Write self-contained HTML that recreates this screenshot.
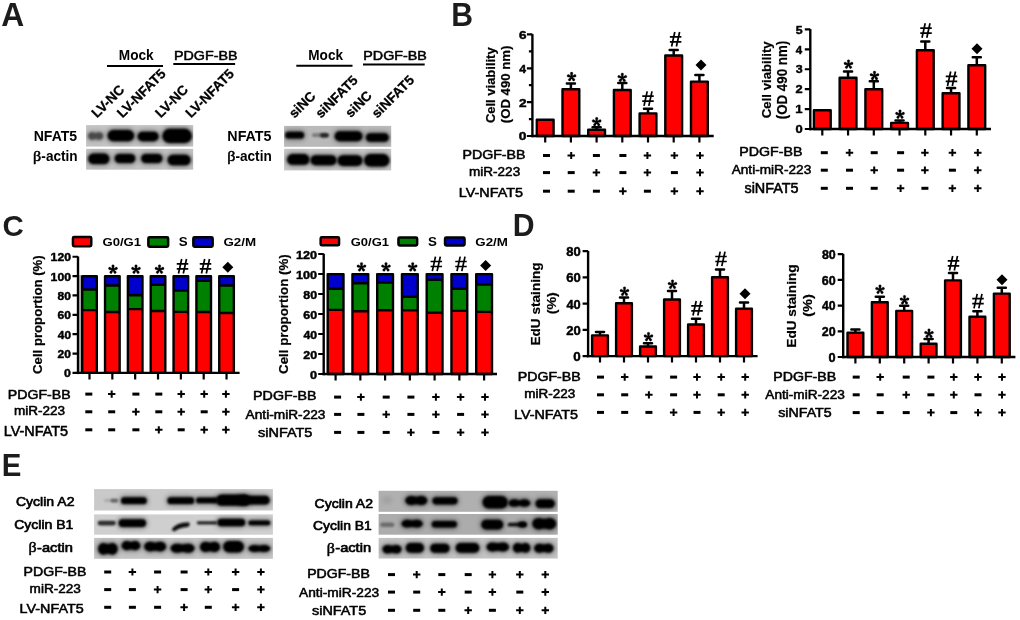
<!DOCTYPE html><html><head><meta charset="utf-8"><style>html,body{margin:0;padding:0;background:#fff;width:1020px;height:620px;overflow:hidden}svg{display:block;will-change:transform}text{font-family:"Liberation Sans",sans-serif;fill:#000}</style></head><body>
<svg width="1020" height="620" viewBox="0 0 1020 620">
<defs><filter id="bl" x="-30%" y="-80%" width="160%" height="260%"><feGaussianBlur stdDeviation="1.5"/></filter><filter id="bl2" x="-30%" y="-80%" width="160%" height="260%"><feGaussianBlur stdDeviation="0.9"/></filter><filter id="bl3" x="-30%" y="-80%" width="160%" height="260%"><feGaussianBlur stdDeviation="2.4"/></filter></defs>
<rect width="1020" height="620" fill="#fff"/>
<text x="1.21" y="26.20" font-size="32.61" font-weight="bold" textLength="22.96" lengthAdjust="spacingAndGlyphs" style="fill:#1c1c1c">A</text>
<text x="451.34" y="25.80" font-size="32.61" font-weight="bold" textLength="21.78" lengthAdjust="spacingAndGlyphs" style="fill:#1c1c1c">B</text>
<text x="2.52" y="235.50" font-size="30.42" font-weight="bold" textLength="21.28" lengthAdjust="spacingAndGlyphs" style="fill:#1c1c1c">C</text>
<text x="512.73" y="235.50" font-size="30.87" font-weight="bold" textLength="21.84" lengthAdjust="spacingAndGlyphs" style="fill:#1c1c1c">D</text>
<text x="1.79" y="476.30" font-size="32.03" font-weight="bold" textLength="19.60" lengthAdjust="spacingAndGlyphs" style="fill:#1c1c1c">E</text>
<path d="M532.4,34.12V137.20" stroke="#000" stroke-width="2.4" fill="none"/>
<path d="M526.9,136.00H532.4M526.9,102.14H532.4M526.9,68.28H532.4M526.9,34.42H532.4M528.9,119.07H532.4M528.9,85.21H532.4M528.9,51.35H532.4" stroke="#000" stroke-width="2.2" fill="none"/>
<text x="518.87" y="140.27" font-size="10.92" font-weight="bold" textLength="7.67" lengthAdjust="spacingAndGlyphs" stroke="#000" stroke-width="0.45" stroke-linejoin="round">0</text>
<text x="518.95" y="106.51" font-size="11.07" font-weight="bold" textLength="7.59" lengthAdjust="spacingAndGlyphs" stroke="#000" stroke-width="0.45" stroke-linejoin="round">2</text>
<text x="519.24" y="72.65" font-size="11.23" font-weight="bold" textLength="6.81" lengthAdjust="spacingAndGlyphs" stroke="#000" stroke-width="0.45" stroke-linejoin="round">4</text>
<text x="518.95" y="38.69" font-size="10.92" font-weight="bold" textLength="7.51" lengthAdjust="spacingAndGlyphs" stroke="#000" stroke-width="0.45" stroke-linejoin="round">6</text>
<rect x="536.80" y="119.70" width="16.80" height="16.30" fill="#f00" stroke="#000" stroke-width="2.4" stroke-linejoin="round"/>
<path d="M570.90,89.1V83.5M566.85,83.5H574.95" stroke="#000" stroke-width="2.5" stroke-linecap="round" fill="none"/>
<rect x="562.50" y="89.30" width="16.80" height="46.70" fill="#f00" stroke="#000" stroke-width="2.4" stroke-linejoin="round"/>
<path d="M596.60,129.6V127.3M592.55,127.3H600.65" stroke="#000" stroke-width="2.5" stroke-linecap="round" fill="none"/>
<rect x="588.20" y="129.80" width="16.80" height="6.20" fill="#f00" stroke="#000" stroke-width="2.4" stroke-linejoin="round"/>
<path d="M622.30,89.8V82.9M618.25,82.9H626.35" stroke="#000" stroke-width="2.5" stroke-linecap="round" fill="none"/>
<rect x="613.90" y="90.00" width="16.80" height="46.00" fill="#f00" stroke="#000" stroke-width="2.4" stroke-linejoin="round"/>
<path d="M648.00,113.2V108.7M643.95,108.7H652.05" stroke="#000" stroke-width="2.5" stroke-linecap="round" fill="none"/>
<rect x="639.60" y="113.40" width="16.80" height="22.60" fill="#f00" stroke="#000" stroke-width="2.4" stroke-linejoin="round"/>
<path d="M673.70,55.3V49.9M669.65,49.9H677.75" stroke="#000" stroke-width="2.5" stroke-linecap="round" fill="none"/>
<rect x="665.30" y="55.50" width="16.80" height="80.50" fill="#f00" stroke="#000" stroke-width="2.4" stroke-linejoin="round"/>
<path d="M699.40,81.4V75.1M695.35,75.1H703.45" stroke="#000" stroke-width="2.5" stroke-linecap="round" fill="none"/>
<rect x="691.00" y="81.60" width="16.80" height="54.40" fill="#f00" stroke="#000" stroke-width="2.4" stroke-linejoin="round"/>
<path d="M531.1999999999999,136H713.7" stroke="#000" stroke-width="2.4" fill="none"/>
<path d="M545.20,136V142.5M570.90,136V142.5M596.60,136V142.5M622.30,136V142.5M648.00,136V142.5M673.70,136V142.5M699.40,136V142.5" stroke="#000" stroke-width="2.2" fill="none"/>
<path d="M572.05,76.90L572.90,73.40A1.3,1.3 0 0 0 570.30,73.40L571.15,76.90ZM571.74,77.33L575.33,77.05A1.3,1.3 0 0 0 574.53,74.58L571.46,76.47ZM571.74,76.47L568.67,74.58A1.3,1.3 0 0 0 567.87,77.05L571.46,77.33ZM571.24,77.16L572.61,80.50A1.3,1.3 0 0 0 574.71,78.97L571.96,76.64ZM571.24,76.64L568.49,78.97A1.3,1.3 0 0 0 570.59,80.50L571.96,77.16Z" fill="#000" stroke="#000" stroke-width="0.3"/>
<path d="M597.15,122.00L598.00,118.50A1.3,1.3 0 0 0 595.40,118.50L596.25,122.00ZM596.84,122.43L600.43,122.15A1.3,1.3 0 0 0 599.63,119.68L596.56,121.57ZM596.84,121.57L593.77,119.68A1.3,1.3 0 0 0 592.97,122.15L596.56,122.43ZM596.34,122.26L597.71,125.60A1.3,1.3 0 0 0 599.81,124.07L597.06,121.74ZM596.34,121.74L593.59,124.07A1.3,1.3 0 0 0 595.69,125.60L597.06,122.26Z" fill="#000" stroke="#000" stroke-width="0.3"/>
<path d="M622.75,77.70L623.60,74.20A1.3,1.3 0 0 0 621.00,74.20L621.85,77.70ZM622.44,78.13L626.03,77.85A1.3,1.3 0 0 0 625.23,75.38L622.16,77.27ZM622.44,77.27L619.37,75.38A1.3,1.3 0 0 0 618.57,77.85L622.16,78.13ZM621.94,77.96L623.31,81.30A1.3,1.3 0 0 0 625.41,79.77L622.66,77.44ZM621.94,77.44L619.19,79.77A1.3,1.3 0 0 0 621.29,81.30L622.66,77.96Z" fill="#000" stroke="#000" stroke-width="0.3"/>
<path d="M647.20,91.35L644.00,105.85M652.00,91.35L648.80,105.85M642.25,96.20H653.75M642.25,101.20H653.75" stroke="#000" stroke-width="1.7" fill="none"/>
<path d="M674.80,32.05L671.60,46.55M679.60,32.05L676.40,46.55M669.85,36.90H681.35M669.85,41.90H681.35" stroke="#000" stroke-width="1.7" fill="none"/>
<path d="M701.00,59.60L706.50,65.10L701.00,70.60L695.50,65.10Z" fill="#000"/>
<text transform="translate(494.64,123.12) rotate(-90)" x="0" y="0" font-size="12.19" font-weight="bold" textLength="75.79" lengthAdjust="spacingAndGlyphs" stroke="#000" stroke-width="0.2">Cell viability</text>
<text transform="translate(510.34,123.26) rotate(-90)" x="0" y="0" font-size="12.19" font-weight="bold" textLength="77.62" lengthAdjust="spacingAndGlyphs" stroke="#000" stroke-width="0.2">(OD 490 nm)</text>
<text x="462.44" y="159.19" font-size="13.03" font-weight="normal" textLength="63.10" lengthAdjust="spacingAndGlyphs" stroke="#000" stroke-width="0.55" stroke-linejoin="round">PDGF-BB</text>
<text x="469.10" y="176.10" font-size="12.86" font-weight="normal" textLength="51.05" lengthAdjust="spacingAndGlyphs" stroke="#000" stroke-width="0.55" stroke-linejoin="round">miR-223</text>
<text x="458.83" y="196.99" font-size="13.36" font-weight="normal" textLength="64.07" lengthAdjust="spacingAndGlyphs" stroke="#000" stroke-width="0.55" stroke-linejoin="round">LV-NFAT5</text>
<path d="M543.00,155.50H550.00" stroke="#000" stroke-width="3" fill="none"/>
<path d="M567.50,155.50H574.90M571.20,151.90V159.10" stroke="#000" stroke-width="2" fill="none"/>
<path d="M592.90,155.50H599.90" stroke="#000" stroke-width="3" fill="none"/>
<path d="M619.40,155.50H626.40" stroke="#000" stroke-width="3" fill="none"/>
<path d="M643.70,155.50H651.10M647.40,151.90V159.10" stroke="#000" stroke-width="2" fill="none"/>
<path d="M670.70,155.50H678.10M674.40,151.90V159.10" stroke="#000" stroke-width="2" fill="none"/>
<path d="M696.30,155.50H703.70M700.00,151.90V159.10" stroke="#000" stroke-width="2" fill="none"/>
<path d="M543.00,172.60H550.00" stroke="#000" stroke-width="3" fill="none"/>
<path d="M567.70,172.60H574.70" stroke="#000" stroke-width="3" fill="none"/>
<path d="M592.70,172.60H600.10M596.40,169.00V176.20" stroke="#000" stroke-width="2" fill="none"/>
<path d="M619.40,172.60H626.40" stroke="#000" stroke-width="3" fill="none"/>
<path d="M643.70,172.60H651.10M647.40,169.00V176.20" stroke="#000" stroke-width="2" fill="none"/>
<path d="M670.90,172.60H677.90" stroke="#000" stroke-width="3" fill="none"/>
<path d="M696.30,172.60H703.70M700.00,169.00V176.20" stroke="#000" stroke-width="2" fill="none"/>
<path d="M543.00,191.20H550.00" stroke="#000" stroke-width="3" fill="none"/>
<path d="M567.70,191.20H574.70" stroke="#000" stroke-width="3" fill="none"/>
<path d="M592.90,191.20H599.90" stroke="#000" stroke-width="3" fill="none"/>
<path d="M619.20,191.20H626.60M622.90,187.60V194.80" stroke="#000" stroke-width="2" fill="none"/>
<path d="M643.90,191.20H650.90" stroke="#000" stroke-width="3" fill="none"/>
<path d="M670.70,191.20H678.10M674.40,187.60V194.80" stroke="#000" stroke-width="2" fill="none"/>
<path d="M696.30,191.20H703.70M700.00,187.60V194.80" stroke="#000" stroke-width="2" fill="none"/>
<path d="M810.3,29.10V130.20" stroke="#000" stroke-width="2.4" fill="none"/>
<path d="M804.8,129.00H810.3M804.8,109.08H810.3M804.8,89.16H810.3M804.8,69.24H810.3M804.8,49.32H810.3M804.8,29.40H810.3" stroke="#000" stroke-width="2.2" fill="none"/>
<text x="795.51" y="133.22" font-size="10.77" font-weight="bold" textLength="7.20" lengthAdjust="spacingAndGlyphs" stroke="#000" stroke-width="0.45" stroke-linejoin="round">0</text>
<text x="795.24" y="113.40" font-size="11.09" font-weight="bold" textLength="7.28" lengthAdjust="spacingAndGlyphs" stroke="#000" stroke-width="0.45" stroke-linejoin="round">1</text>
<text x="795.58" y="93.48" font-size="10.93" font-weight="bold" textLength="7.13" lengthAdjust="spacingAndGlyphs" stroke="#000" stroke-width="0.45" stroke-linejoin="round">2</text>
<text x="795.71" y="73.46" font-size="10.77" font-weight="bold" textLength="6.91" lengthAdjust="spacingAndGlyphs" stroke="#000" stroke-width="0.45" stroke-linejoin="round">3</text>
<text x="795.85" y="53.64" font-size="11.09" font-weight="bold" textLength="6.39" lengthAdjust="spacingAndGlyphs" stroke="#000" stroke-width="0.45" stroke-linejoin="round">4</text>
<text x="795.66" y="33.62" font-size="10.93" font-weight="bold" textLength="6.84" lengthAdjust="spacingAndGlyphs" stroke="#000" stroke-width="0.45" stroke-linejoin="round">5</text>
<rect x="813.90" y="110.30" width="16.80" height="18.70" fill="#f00" stroke="#000" stroke-width="2.4" stroke-linejoin="round"/>
<path d="M848.05,77.6V71.4M844.00,71.4H852.10" stroke="#000" stroke-width="2.5" stroke-linecap="round" fill="none"/>
<rect x="839.65" y="77.80" width="16.80" height="51.20" fill="#f00" stroke="#000" stroke-width="2.4" stroke-linejoin="round"/>
<path d="M873.80,89.1V81.2M869.75,81.2H877.85" stroke="#000" stroke-width="2.5" stroke-linecap="round" fill="none"/>
<rect x="865.40" y="89.30" width="16.80" height="39.70" fill="#f00" stroke="#000" stroke-width="2.4" stroke-linejoin="round"/>
<path d="M899.55,122.7V120.6M895.50,120.6H903.60" stroke="#000" stroke-width="2.5" stroke-linecap="round" fill="none"/>
<rect x="891.15" y="122.90" width="16.80" height="6.10" fill="#f00" stroke="#000" stroke-width="2.4" stroke-linejoin="round"/>
<path d="M925.30,50V41.4M921.25,41.4H929.35" stroke="#000" stroke-width="2.5" stroke-linecap="round" fill="none"/>
<rect x="916.90" y="50.20" width="16.80" height="78.80" fill="#f00" stroke="#000" stroke-width="2.4" stroke-linejoin="round"/>
<path d="M951.05,93V88.1M947.00,88.1H955.10" stroke="#000" stroke-width="2.5" stroke-linecap="round" fill="none"/>
<rect x="942.65" y="93.20" width="16.80" height="35.80" fill="#f00" stroke="#000" stroke-width="2.4" stroke-linejoin="round"/>
<path d="M976.80,65V57.3M972.75,57.3H980.85" stroke="#000" stroke-width="2.5" stroke-linecap="round" fill="none"/>
<rect x="968.40" y="65.20" width="16.80" height="63.80" fill="#f00" stroke="#000" stroke-width="2.4" stroke-linejoin="round"/>
<path d="M809.0999999999999,129H991" stroke="#000" stroke-width="2.4" fill="none"/>
<path d="M822.30,129V135.5M848.05,129V135.5M873.80,129V135.5M899.55,129V135.5M925.30,129V135.5M951.05,129V135.5M976.80,129V135.5" stroke="#000" stroke-width="2.2" fill="none"/>
<path d="M848.95,64.50L849.80,61.00A1.3,1.3 0 0 0 847.20,61.00L848.05,64.50ZM848.64,64.93L852.23,64.65A1.3,1.3 0 0 0 851.43,62.18L848.36,64.07ZM848.64,64.07L845.57,62.18A1.3,1.3 0 0 0 844.77,64.65L848.36,64.93ZM848.14,64.76L849.51,68.10A1.3,1.3 0 0 0 851.61,66.57L848.86,64.24ZM848.14,64.24L845.39,66.57A1.3,1.3 0 0 0 847.49,68.10L848.86,64.76Z" fill="#000" stroke="#000" stroke-width="0.3"/>
<path d="M874.95,75.80L875.80,72.30A1.3,1.3 0 0 0 873.20,72.30L874.05,75.80ZM874.64,76.23L878.23,75.95A1.3,1.3 0 0 0 877.43,73.48L874.36,75.37ZM874.64,75.37L871.57,73.48A1.3,1.3 0 0 0 870.77,75.95L874.36,76.23ZM874.14,76.06L875.51,79.40A1.3,1.3 0 0 0 877.61,77.87L874.86,75.54ZM874.14,75.54L871.39,77.87A1.3,1.3 0 0 0 873.49,79.40L874.86,76.06Z" fill="#000" stroke="#000" stroke-width="0.3"/>
<path d="M900.45,114.50L901.30,111.00A1.3,1.3 0 0 0 898.70,111.00L899.55,114.50ZM900.14,114.93L903.73,114.65A1.3,1.3 0 0 0 902.93,112.18L899.86,114.07ZM900.14,114.07L897.07,112.18A1.3,1.3 0 0 0 896.27,114.65L899.86,114.93ZM899.64,114.76L901.01,118.10A1.3,1.3 0 0 0 903.11,116.57L900.36,114.24ZM899.64,114.24L896.89,116.57A1.3,1.3 0 0 0 898.99,118.10L900.36,114.76Z" fill="#000" stroke="#000" stroke-width="0.3"/>
<path d="M925.20,23.25L922.00,37.75M930.00,23.25L926.80,37.75M920.25,28.10H931.75M920.25,33.10H931.75" stroke="#000" stroke-width="1.7" fill="none"/>
<path d="M950.70,71.45L947.50,85.95M955.50,71.45L952.30,85.95M945.75,76.30H957.25M945.75,81.30H957.25" stroke="#000" stroke-width="1.7" fill="none"/>
<path d="M977.00,43.20L982.50,48.70L977.00,54.20L971.50,48.70Z" fill="#000"/>
<text transform="translate(770.51,118.13) rotate(-90)" x="0" y="0" font-size="13.26" font-weight="bold" textLength="76.80" lengthAdjust="spacingAndGlyphs" stroke="#000" stroke-width="0.2">Cell viability</text>
<text transform="translate(786.71,119.27) rotate(-90)" x="0" y="0" font-size="14.22" font-weight="bold" textLength="78.54" lengthAdjust="spacingAndGlyphs" stroke="#000" stroke-width="0.2">(OD 490 nm)</text>
<text x="739.34" y="156.09" font-size="13.03" font-weight="normal" textLength="63.10" lengthAdjust="spacingAndGlyphs" stroke="#000" stroke-width="0.55" stroke-linejoin="round">PDGF-BB</text>
<text x="731.67" y="174.09" font-size="13.27" font-weight="normal" textLength="79.60" lengthAdjust="spacingAndGlyphs" stroke="#000" stroke-width="0.55" stroke-linejoin="round">Anti-miR-223</text>
<text x="744.44" y="193.09" font-size="13.95" font-weight="normal" textLength="54.16" lengthAdjust="spacingAndGlyphs" stroke="#000" stroke-width="0.55" stroke-linejoin="round">siNFAT5</text>
<path d="M820.80,152.70H827.80" stroke="#000" stroke-width="3" fill="none"/>
<path d="M845.80,152.70H853.20M849.50,149.10V156.30" stroke="#000" stroke-width="2" fill="none"/>
<path d="M870.70,152.70H877.70" stroke="#000" stroke-width="3" fill="none"/>
<path d="M897.10,152.70H904.10" stroke="#000" stroke-width="3" fill="none"/>
<path d="M921.20,152.70H928.60M924.90,149.10V156.30" stroke="#000" stroke-width="2" fill="none"/>
<path d="M948.70,152.70H956.10M952.40,149.10V156.30" stroke="#000" stroke-width="2" fill="none"/>
<path d="M974.10,152.70H981.50M977.80,149.10V156.30" stroke="#000" stroke-width="2" fill="none"/>
<path d="M820.80,170.20H827.80" stroke="#000" stroke-width="3" fill="none"/>
<path d="M846.00,170.20H853.00" stroke="#000" stroke-width="3" fill="none"/>
<path d="M870.50,170.20H877.90M874.20,166.60V173.80" stroke="#000" stroke-width="2" fill="none"/>
<path d="M897.10,170.20H904.10" stroke="#000" stroke-width="3" fill="none"/>
<path d="M921.20,170.20H928.60M924.90,166.60V173.80" stroke="#000" stroke-width="2" fill="none"/>
<path d="M948.90,170.20H955.90" stroke="#000" stroke-width="3" fill="none"/>
<path d="M974.10,170.20H981.50M977.80,166.60V173.80" stroke="#000" stroke-width="2" fill="none"/>
<path d="M820.80,188.30H827.80" stroke="#000" stroke-width="3" fill="none"/>
<path d="M846.00,188.30H853.00" stroke="#000" stroke-width="3" fill="none"/>
<path d="M870.70,188.30H877.70" stroke="#000" stroke-width="3" fill="none"/>
<path d="M896.90,188.30H904.30M900.60,184.70V191.90" stroke="#000" stroke-width="2" fill="none"/>
<path d="M921.40,188.30H928.40" stroke="#000" stroke-width="3" fill="none"/>
<path d="M948.70,188.30H956.10M952.40,184.70V191.90" stroke="#000" stroke-width="2" fill="none"/>
<path d="M974.10,188.30H981.50M977.80,184.70V191.90" stroke="#000" stroke-width="2" fill="none"/>
<path d="M588.1,250.92V357.30" stroke="#000" stroke-width="2.4" fill="none"/>
<path d="M582.6,356.10H588.1M582.6,329.88H588.1M582.6,303.66H588.1M582.6,277.44H588.1M582.6,251.22H588.1" stroke="#000" stroke-width="2.2" fill="none"/>
<text x="573.29" y="360.95" font-size="12.61" font-weight="bold" textLength="7.44" lengthAdjust="spacingAndGlyphs" stroke="#000" stroke-width="0.45" stroke-linejoin="round">0</text>
<text x="566.20" y="334.73" font-size="12.61" font-weight="bold" textLength="14.53" lengthAdjust="spacingAndGlyphs" stroke="#000" stroke-width="0.45" stroke-linejoin="round">20</text>
<text x="566.47" y="308.51" font-size="12.61" font-weight="bold" textLength="14.25" lengthAdjust="spacingAndGlyphs" stroke="#000" stroke-width="0.45" stroke-linejoin="round">40</text>
<text x="566.20" y="282.29" font-size="12.61" font-weight="bold" textLength="14.53" lengthAdjust="spacingAndGlyphs" stroke="#000" stroke-width="0.45" stroke-linejoin="round">60</text>
<text x="566.27" y="256.07" font-size="12.61" font-weight="bold" textLength="14.46" lengthAdjust="spacingAndGlyphs" stroke="#000" stroke-width="0.45" stroke-linejoin="round">80</text>
<path d="M600.00,335.2V332M595.95,332H604.05" stroke="#000" stroke-width="2.5" stroke-linecap="round" fill="none"/>
<rect x="592.10" y="335.40" width="15.80" height="20.70" fill="#f00" stroke="#000" stroke-width="2.4" stroke-linejoin="round"/>
<path d="M624.00,303V297.5M619.95,297.5H628.05" stroke="#000" stroke-width="2.5" stroke-linecap="round" fill="none"/>
<rect x="616.10" y="303.20" width="15.80" height="52.90" fill="#f00" stroke="#000" stroke-width="2.4" stroke-linejoin="round"/>
<path d="M648.00,346.3V343.2M643.95,343.2H652.05" stroke="#000" stroke-width="2.5" stroke-linecap="round" fill="none"/>
<rect x="640.10" y="346.50" width="15.80" height="9.60" fill="#f00" stroke="#000" stroke-width="2.4" stroke-linejoin="round"/>
<path d="M672.00,299.3V291M667.95,291H676.05" stroke="#000" stroke-width="2.5" stroke-linecap="round" fill="none"/>
<rect x="664.10" y="299.50" width="15.80" height="56.60" fill="#f00" stroke="#000" stroke-width="2.4" stroke-linejoin="round"/>
<path d="M696.00,324.3V318.7M691.95,318.7H700.05" stroke="#000" stroke-width="2.5" stroke-linecap="round" fill="none"/>
<rect x="688.10" y="324.50" width="15.80" height="31.60" fill="#f00" stroke="#000" stroke-width="2.4" stroke-linejoin="round"/>
<path d="M720.00,277.1V269.4M715.95,269.4H724.05" stroke="#000" stroke-width="2.5" stroke-linecap="round" fill="none"/>
<rect x="712.10" y="277.30" width="15.80" height="78.80" fill="#f00" stroke="#000" stroke-width="2.4" stroke-linejoin="round"/>
<path d="M744.00,308.5V302.5M739.95,302.5H748.05" stroke="#000" stroke-width="2.5" stroke-linecap="round" fill="none"/>
<rect x="736.10" y="308.70" width="15.80" height="47.40" fill="#f00" stroke="#000" stroke-width="2.4" stroke-linejoin="round"/>
<path d="M586.9,356.1H757.6" stroke="#000" stroke-width="2.4" fill="none"/>
<path d="M600.00,356.1V362.6M624.00,356.1V362.6M648.00,356.1V362.6M672.00,356.1V362.6M696.00,356.1V362.6M720.00,356.1V362.6M744.00,356.1V362.6" stroke="#000" stroke-width="2.2" fill="none"/>
<path d="M624.95,291.60L625.80,288.10A1.3,1.3 0 0 0 623.20,288.10L624.05,291.60ZM624.64,292.03L628.23,291.75A1.3,1.3 0 0 0 627.43,289.28L624.36,291.17ZM624.64,291.17L621.57,289.28A1.3,1.3 0 0 0 620.77,291.75L624.36,292.03ZM624.14,291.86L625.51,295.20A1.3,1.3 0 0 0 627.61,293.67L624.86,291.34ZM624.14,291.34L621.39,293.67A1.3,1.3 0 0 0 623.49,295.20L624.86,291.86Z" fill="#000" stroke="#000" stroke-width="0.3"/>
<path d="M648.95,337.00L649.80,333.50A1.3,1.3 0 0 0 647.20,333.50L648.05,337.00ZM648.64,337.43L652.23,337.15A1.3,1.3 0 0 0 651.43,334.68L648.36,336.57ZM648.64,336.57L645.57,334.68A1.3,1.3 0 0 0 644.77,337.15L648.36,337.43ZM648.14,337.26L649.51,340.60A1.3,1.3 0 0 0 651.61,339.07L648.86,336.74ZM648.14,336.74L645.39,339.07A1.3,1.3 0 0 0 647.49,340.60L648.86,337.26Z" fill="#000" stroke="#000" stroke-width="0.3"/>
<path d="M672.95,284.60L673.80,281.10A1.3,1.3 0 0 0 671.20,281.10L672.05,284.60ZM672.64,285.03L676.23,284.75A1.3,1.3 0 0 0 675.43,282.28L672.36,284.17ZM672.64,284.17L669.57,282.28A1.3,1.3 0 0 0 668.77,284.75L672.36,285.03ZM672.14,284.86L673.51,288.20A1.3,1.3 0 0 0 675.61,286.67L672.86,284.34ZM672.14,284.34L669.39,286.67A1.3,1.3 0 0 0 671.49,288.20L672.86,284.86Z" fill="#000" stroke="#000" stroke-width="0.3"/>
<path d="M696.20,300.95L693.00,315.45M701.00,300.95L697.80,315.45M691.25,305.80H702.75M691.25,310.80H702.75" stroke="#000" stroke-width="1.7" fill="none"/>
<path d="M720.20,251.65L717.00,266.15M725.00,251.65L721.80,266.15M715.25,256.50H726.75M715.25,261.50H726.75" stroke="#000" stroke-width="1.7" fill="none"/>
<path d="M745.00,288.20L750.50,293.70L745.00,299.20L739.50,293.70Z" fill="#000"/>
<text transform="translate(539.93,345.58) rotate(-90)" x="0" y="0" font-size="12.73" font-weight="bold" textLength="83.19" lengthAdjust="spacingAndGlyphs" stroke="#000" stroke-width="0.2">EdU staining</text>
<text transform="translate(555.66,314.21) rotate(-90)" x="0" y="0" font-size="12.09" font-weight="bold" textLength="22.02" lengthAdjust="spacingAndGlyphs" stroke="#000" stroke-width="0.2">(%)</text>
<text x="517.84" y="381.30" font-size="12.46" font-weight="normal" textLength="62.89" lengthAdjust="spacingAndGlyphs" stroke="#000" stroke-width="0.55" stroke-linejoin="round">PDGF-BB</text>
<text x="524.20" y="397.70" font-size="12.04" font-weight="normal" textLength="50.95" lengthAdjust="spacingAndGlyphs" stroke="#000" stroke-width="0.55" stroke-linejoin="round">miR-223</text>
<text x="514.03" y="418.59" font-size="13.07" font-weight="normal" textLength="64.07" lengthAdjust="spacingAndGlyphs" stroke="#000" stroke-width="0.55" stroke-linejoin="round">LV-NFAT5</text>
<path d="M597.00,377.10H604.00" stroke="#000" stroke-width="3" fill="none"/>
<path d="M621.00,377.10H628.40M624.70,373.50V380.70" stroke="#000" stroke-width="2" fill="none"/>
<path d="M645.40,377.10H652.40" stroke="#000" stroke-width="3" fill="none"/>
<path d="M670.10,377.10H677.10" stroke="#000" stroke-width="3" fill="none"/>
<path d="M693.30,377.10H700.70M697.00,373.50V380.70" stroke="#000" stroke-width="2" fill="none"/>
<path d="M717.50,377.10H724.90M721.20,373.50V380.70" stroke="#000" stroke-width="2" fill="none"/>
<path d="M741.50,377.10H748.90M745.20,373.50V380.70" stroke="#000" stroke-width="2" fill="none"/>
<path d="M597.00,394.80H604.00" stroke="#000" stroke-width="3" fill="none"/>
<path d="M621.20,394.80H628.20" stroke="#000" stroke-width="3" fill="none"/>
<path d="M645.20,394.80H652.60M648.90,391.20V398.40" stroke="#000" stroke-width="2" fill="none"/>
<path d="M670.10,394.80H677.10" stroke="#000" stroke-width="3" fill="none"/>
<path d="M693.30,394.80H700.70M697.00,391.20V398.40" stroke="#000" stroke-width="2" fill="none"/>
<path d="M717.70,394.80H724.70" stroke="#000" stroke-width="3" fill="none"/>
<path d="M741.50,394.80H748.90M745.20,391.20V398.40" stroke="#000" stroke-width="2" fill="none"/>
<path d="M597.00,412.40H604.00" stroke="#000" stroke-width="3" fill="none"/>
<path d="M621.20,412.40H628.20" stroke="#000" stroke-width="3" fill="none"/>
<path d="M645.40,412.40H652.40" stroke="#000" stroke-width="3" fill="none"/>
<path d="M669.90,412.40H677.30M673.60,408.80V416.00" stroke="#000" stroke-width="2" fill="none"/>
<path d="M693.50,412.40H700.50" stroke="#000" stroke-width="3" fill="none"/>
<path d="M717.50,412.40H724.90M721.20,408.80V416.00" stroke="#000" stroke-width="2" fill="none"/>
<path d="M741.50,412.40H748.90M745.20,408.80V416.00" stroke="#000" stroke-width="2" fill="none"/>
<path d="M843.2,253.82V358.20" stroke="#000" stroke-width="2.4" fill="none"/>
<path d="M837.7,357.00H843.2M837.7,331.28H843.2M837.7,305.56H843.2M837.7,279.84H843.2M837.7,254.12H843.2" stroke="#000" stroke-width="2.2" fill="none"/>
<text x="828.62" y="361.70" font-size="12.18" font-weight="bold" textLength="7.08" lengthAdjust="spacingAndGlyphs" stroke="#000" stroke-width="0.45" stroke-linejoin="round">0</text>
<text x="821.84" y="335.98" font-size="12.18" font-weight="bold" textLength="13.86" lengthAdjust="spacingAndGlyphs" stroke="#000" stroke-width="0.45" stroke-linejoin="round">20</text>
<text x="822.09" y="310.26" font-size="12.18" font-weight="bold" textLength="13.60" lengthAdjust="spacingAndGlyphs" stroke="#000" stroke-width="0.45" stroke-linejoin="round">40</text>
<text x="821.84" y="284.54" font-size="12.18" font-weight="bold" textLength="13.86" lengthAdjust="spacingAndGlyphs" stroke="#000" stroke-width="0.45" stroke-linejoin="round">60</text>
<text x="821.90" y="258.82" font-size="12.18" font-weight="bold" textLength="13.80" lengthAdjust="spacingAndGlyphs" stroke="#000" stroke-width="0.45" stroke-linejoin="round">80</text>
<path d="M855.40,332.5V329.4M851.35,329.4H859.45" stroke="#000" stroke-width="2.5" stroke-linecap="round" fill="none"/>
<rect x="847.50" y="332.70" width="15.80" height="24.30" fill="#f00" stroke="#000" stroke-width="2.4" stroke-linejoin="round"/>
<path d="M879.80,302V296.7M875.75,296.7H883.85" stroke="#000" stroke-width="2.5" stroke-linecap="round" fill="none"/>
<rect x="871.90" y="302.20" width="15.80" height="54.80" fill="#f00" stroke="#000" stroke-width="2.4" stroke-linejoin="round"/>
<path d="M904.20,310.7V305.8M900.15,305.8H908.25" stroke="#000" stroke-width="2.5" stroke-linecap="round" fill="none"/>
<rect x="896.30" y="310.90" width="15.80" height="46.10" fill="#f00" stroke="#000" stroke-width="2.4" stroke-linejoin="round"/>
<path d="M928.60,343.6V339.1M924.55,339.1H932.65" stroke="#000" stroke-width="2.5" stroke-linecap="round" fill="none"/>
<rect x="920.70" y="343.80" width="15.80" height="13.20" fill="#f00" stroke="#000" stroke-width="2.4" stroke-linejoin="round"/>
<path d="M953.00,280.2V273.1M948.95,273.1H957.05" stroke="#000" stroke-width="2.5" stroke-linecap="round" fill="none"/>
<rect x="945.10" y="280.40" width="15.80" height="76.60" fill="#f00" stroke="#000" stroke-width="2.4" stroke-linejoin="round"/>
<path d="M977.40,316.5V311.3M973.35,311.3H981.45" stroke="#000" stroke-width="2.5" stroke-linecap="round" fill="none"/>
<rect x="969.50" y="316.70" width="15.80" height="40.30" fill="#f00" stroke="#000" stroke-width="2.4" stroke-linejoin="round"/>
<path d="M1001.80,293.4V287.8M997.75,287.8H1005.85" stroke="#000" stroke-width="2.5" stroke-linecap="round" fill="none"/>
<rect x="993.90" y="293.60" width="15.80" height="63.40" fill="#f00" stroke="#000" stroke-width="2.4" stroke-linejoin="round"/>
<path d="M842.0,357H1015.4" stroke="#000" stroke-width="2.4" fill="none"/>
<path d="M855.40,357V363.5M879.80,357V363.5M904.20,357V363.5M928.60,357V363.5M953.00,357V363.5M977.40,357V363.5M1001.80,357V363.5" stroke="#000" stroke-width="2.2" fill="none"/>
<path d="M880.45,289.60L881.30,286.10A1.3,1.3 0 0 0 878.70,286.10L879.55,289.60ZM880.14,290.03L883.73,289.75A1.3,1.3 0 0 0 882.93,287.28L879.86,289.17ZM880.14,289.17L877.07,287.28A1.3,1.3 0 0 0 876.27,289.75L879.86,290.03ZM879.64,289.86L881.01,293.20A1.3,1.3 0 0 0 883.11,291.67L880.36,289.34ZM879.64,289.34L876.89,291.67A1.3,1.3 0 0 0 878.99,293.20L880.36,289.86Z" fill="#000" stroke="#000" stroke-width="0.3"/>
<path d="M904.95,300.10L905.80,296.60A1.3,1.3 0 0 0 903.20,296.60L904.05,300.10ZM904.64,300.53L908.23,300.25A1.3,1.3 0 0 0 907.43,297.78L904.36,299.67ZM904.64,299.67L901.57,297.78A1.3,1.3 0 0 0 900.77,300.25L904.36,300.53ZM904.14,300.36L905.51,303.70A1.3,1.3 0 0 0 907.61,302.17L904.86,299.84ZM904.14,299.84L901.39,302.17A1.3,1.3 0 0 0 903.49,303.70L904.86,300.36Z" fill="#000" stroke="#000" stroke-width="0.3"/>
<path d="M929.45,333.60L930.30,330.10A1.3,1.3 0 0 0 927.70,330.10L928.55,333.60ZM929.14,334.03L932.73,333.75A1.3,1.3 0 0 0 931.93,331.28L928.86,333.17ZM929.14,333.17L926.07,331.28A1.3,1.3 0 0 0 925.27,333.75L928.86,334.03ZM928.64,333.86L930.01,337.20A1.3,1.3 0 0 0 932.11,335.67L929.36,333.34ZM928.64,333.34L925.89,335.67A1.3,1.3 0 0 0 927.99,337.20L929.36,333.86Z" fill="#000" stroke="#000" stroke-width="0.3"/>
<path d="M952.70,256.05L949.50,270.55M957.50,256.05L954.30,270.55M947.75,260.90H959.25M947.75,265.90H959.25" stroke="#000" stroke-width="1.7" fill="none"/>
<path d="M977.20,293.85L974.00,308.35M982.00,293.85L978.80,308.35M972.25,298.70H983.75M972.25,303.70H983.75" stroke="#000" stroke-width="1.7" fill="none"/>
<path d="M1002.00,274.30L1007.50,279.80L1002.00,285.30L996.50,279.80Z" fill="#000"/>
<text transform="translate(795.64,347.69) rotate(-90)" x="0" y="0" font-size="13.16" font-weight="bold" textLength="83.29" lengthAdjust="spacingAndGlyphs" stroke="#000" stroke-width="0.2">EdU staining</text>
<text transform="translate(811.62,316.83) rotate(-90)" x="0" y="0" font-size="12.30" font-weight="bold" textLength="22.66" lengthAdjust="spacingAndGlyphs" stroke="#000" stroke-width="0.2">(%)</text>
<text x="773.34" y="380.50" font-size="12.18" font-weight="normal" textLength="62.79" lengthAdjust="spacingAndGlyphs" stroke="#000" stroke-width="0.55" stroke-linejoin="round">PDGF-BB</text>
<text x="765.38" y="398.90" font-size="12.86" font-weight="normal" textLength="79.40" lengthAdjust="spacingAndGlyphs" stroke="#000" stroke-width="0.55" stroke-linejoin="round">Anti-miR-223</text>
<text x="778.25" y="417.10" font-size="12.99" font-weight="normal" textLength="53.44" lengthAdjust="spacingAndGlyphs" stroke="#000" stroke-width="0.55" stroke-linejoin="round">siNFAT5</text>
<path d="M852.70,377.10H859.70" stroke="#000" stroke-width="3" fill="none"/>
<path d="M876.50,377.10H883.90M880.20,373.50V380.70" stroke="#000" stroke-width="2" fill="none"/>
<path d="M902.70,377.10H909.70" stroke="#000" stroke-width="3" fill="none"/>
<path d="M927.40,377.10H934.40" stroke="#000" stroke-width="3" fill="none"/>
<path d="M950.10,377.10H957.50M953.80,373.50V380.70" stroke="#000" stroke-width="2" fill="none"/>
<path d="M974.30,377.10H981.70M978.00,373.50V380.70" stroke="#000" stroke-width="2" fill="none"/>
<path d="M998.30,377.10H1005.70M1002.00,373.50V380.70" stroke="#000" stroke-width="2" fill="none"/>
<path d="M852.70,394.80H859.70" stroke="#000" stroke-width="3" fill="none"/>
<path d="M876.70,394.80H883.70" stroke="#000" stroke-width="3" fill="none"/>
<path d="M902.50,394.80H909.90M906.20,391.20V398.40" stroke="#000" stroke-width="2" fill="none"/>
<path d="M927.40,394.80H934.40" stroke="#000" stroke-width="3" fill="none"/>
<path d="M950.10,394.80H957.50M953.80,391.20V398.40" stroke="#000" stroke-width="2" fill="none"/>
<path d="M974.50,394.80H981.50" stroke="#000" stroke-width="3" fill="none"/>
<path d="M998.30,394.80H1005.70M1002.00,391.20V398.40" stroke="#000" stroke-width="2" fill="none"/>
<path d="M852.70,412.60H859.70" stroke="#000" stroke-width="3" fill="none"/>
<path d="M876.70,412.60H883.70" stroke="#000" stroke-width="3" fill="none"/>
<path d="M902.70,412.60H909.70" stroke="#000" stroke-width="3" fill="none"/>
<path d="M927.20,412.60H934.60M930.90,409.00V416.20" stroke="#000" stroke-width="2" fill="none"/>
<path d="M950.30,412.60H957.30" stroke="#000" stroke-width="3" fill="none"/>
<path d="M974.30,412.60H981.70M978.00,409.00V416.20" stroke="#000" stroke-width="2" fill="none"/>
<path d="M998.30,412.60H1005.70M1002.00,409.00V416.20" stroke="#000" stroke-width="2" fill="none"/>
<rect x="79.4" y="275" width="1.5" height="97" fill="#a0a0a0"/>
<path d="M78.0,256.44V374.10" stroke="#000" stroke-width="2.4" fill="none"/>
<path d="M72.5,372.90H78.0M72.5,353.54H78.0M72.5,334.18H78.0M72.5,314.82H78.0M72.5,295.46H78.0M72.5,276.10H78.0M72.5,256.74H78.0" stroke="#000" stroke-width="2.2" fill="none"/>
<text x="64.13" y="377.36" font-size="11.48" font-weight="bold" textLength="6.85" lengthAdjust="spacingAndGlyphs" stroke="#000" stroke-width="0.45" stroke-linejoin="round">0</text>
<text x="57.56" y="358.00" font-size="11.48" font-weight="bold" textLength="13.42" lengthAdjust="spacingAndGlyphs" stroke="#000" stroke-width="0.45" stroke-linejoin="round">20</text>
<text x="57.81" y="338.64" font-size="11.48" font-weight="bold" textLength="13.17" lengthAdjust="spacingAndGlyphs" stroke="#000" stroke-width="0.45" stroke-linejoin="round">40</text>
<text x="57.56" y="319.28" font-size="11.48" font-weight="bold" textLength="13.42" lengthAdjust="spacingAndGlyphs" stroke="#000" stroke-width="0.45" stroke-linejoin="round">60</text>
<text x="57.63" y="299.92" font-size="11.48" font-weight="bold" textLength="13.36" lengthAdjust="spacingAndGlyphs" stroke="#000" stroke-width="0.45" stroke-linejoin="round">80</text>
<text x="50.61" y="280.56" font-size="11.48" font-weight="bold" textLength="20.39" lengthAdjust="spacingAndGlyphs" stroke="#000" stroke-width="0.45" stroke-linejoin="round">100</text>
<text x="50.61" y="261.20" font-size="11.48" font-weight="bold" textLength="20.39" lengthAdjust="spacingAndGlyphs" stroke="#000" stroke-width="0.45" stroke-linejoin="round">120</text>
<rect x="82.20" y="276.20" width="14.60" height="13.26" fill="#0000cc"/>
<rect x="82.20" y="289.46" width="14.60" height="20.72" fill="#008000"/>
<rect x="82.20" y="310.17" width="14.60" height="62.73" fill="#f00"/>
<path d="M82.20,289.46H96.80M82.20,310.17H96.80" stroke="#000" stroke-width="2.4"/>
<rect x="82.20" y="276.20" width="14.60" height="96.70" fill="none" stroke="#000" stroke-width="2.4" stroke-linejoin="round"/>
<rect x="105.04" y="276.20" width="14.60" height="9.29" fill="#0000cc"/>
<rect x="105.04" y="285.49" width="14.60" height="26.52" fill="#008000"/>
<rect x="105.04" y="312.01" width="14.60" height="60.89" fill="#f00"/>
<path d="M105.04,285.49H119.64M105.04,312.01H119.64" stroke="#000" stroke-width="2.4"/>
<rect x="105.04" y="276.20" width="14.60" height="96.70" fill="none" stroke="#000" stroke-width="2.4" stroke-linejoin="round"/>
<rect x="127.88" y="276.20" width="14.60" height="19.07" fill="#0000cc"/>
<rect x="127.88" y="295.27" width="14.60" height="13.84" fill="#008000"/>
<rect x="127.88" y="309.11" width="14.60" height="63.79" fill="#f00"/>
<path d="M127.88,295.27H142.48M127.88,309.11H142.48" stroke="#000" stroke-width="2.4"/>
<rect x="127.88" y="276.20" width="14.60" height="96.70" fill="none" stroke="#000" stroke-width="2.4" stroke-linejoin="round"/>
<rect x="150.72" y="276.20" width="14.60" height="8.61" fill="#0000cc"/>
<rect x="150.72" y="284.81" width="14.60" height="26.14" fill="#008000"/>
<rect x="150.72" y="310.95" width="14.60" height="61.95" fill="#f00"/>
<path d="M150.72,284.81H165.32M150.72,310.95H165.32" stroke="#000" stroke-width="2.4"/>
<rect x="150.72" y="276.20" width="14.60" height="96.70" fill="none" stroke="#000" stroke-width="2.4" stroke-linejoin="round"/>
<rect x="173.56" y="276.20" width="14.60" height="14.42" fill="#0000cc"/>
<rect x="173.56" y="290.62" width="14.60" height="21.30" fill="#008000"/>
<rect x="173.56" y="311.92" width="14.60" height="60.98" fill="#f00"/>
<path d="M173.56,290.62H188.16M173.56,311.92H188.16" stroke="#000" stroke-width="2.4"/>
<rect x="173.56" y="276.20" width="14.60" height="96.70" fill="none" stroke="#000" stroke-width="2.4" stroke-linejoin="round"/>
<rect x="196.40" y="276.20" width="14.60" height="4.64" fill="#0000cc"/>
<rect x="196.40" y="280.84" width="14.60" height="31.17" fill="#008000"/>
<rect x="196.40" y="312.01" width="14.60" height="60.89" fill="#f00"/>
<path d="M196.40,280.84H211.00M196.40,312.01H211.00" stroke="#000" stroke-width="2.4"/>
<rect x="196.40" y="276.20" width="14.60" height="96.70" fill="none" stroke="#000" stroke-width="2.4" stroke-linejoin="round"/>
<rect x="219.24" y="276.20" width="14.60" height="9.29" fill="#0000cc"/>
<rect x="219.24" y="285.49" width="14.60" height="27.49" fill="#008000"/>
<rect x="219.24" y="312.98" width="14.60" height="59.92" fill="#f00"/>
<path d="M219.24,285.49H233.84M219.24,312.98H233.84" stroke="#000" stroke-width="2.4"/>
<rect x="219.24" y="276.20" width="14.60" height="96.70" fill="none" stroke="#000" stroke-width="2.4" stroke-linejoin="round"/>
<path d="M76.8,372.9H239.6" stroke="#000" stroke-width="2.4" fill="none"/>
<path d="M89.50,372.9V379.4M112.34,372.9V379.4M135.18,372.9V379.4M158.02,372.9V379.4M180.86,372.9V379.4M203.70,372.9V379.4M226.54,372.9V379.4" stroke="#000" stroke-width="2.2" fill="none"/>
<path d="M113.45,269.50L114.30,266.00A1.3,1.3 0 0 0 111.70,266.00L112.55,269.50ZM113.14,269.93L116.73,269.65A1.3,1.3 0 0 0 115.93,267.18L112.86,269.07ZM113.14,269.07L110.07,267.18A1.3,1.3 0 0 0 109.27,269.65L112.86,269.93ZM112.64,269.76L114.01,273.10A1.3,1.3 0 0 0 116.11,271.57L113.36,269.24ZM112.64,269.24L109.89,271.57A1.3,1.3 0 0 0 111.99,273.10L113.36,269.76Z" fill="#000" stroke="#000" stroke-width="0.3"/>
<path d="M136.45,269.50L137.30,266.00A1.3,1.3 0 0 0 134.70,266.00L135.55,269.50ZM136.14,269.93L139.73,269.65A1.3,1.3 0 0 0 138.93,267.18L135.86,269.07ZM136.14,269.07L133.07,267.18A1.3,1.3 0 0 0 132.27,269.65L135.86,269.93ZM135.64,269.76L137.01,273.10A1.3,1.3 0 0 0 139.11,271.57L136.36,269.24ZM135.64,269.24L132.89,271.57A1.3,1.3 0 0 0 134.99,273.10L136.36,269.76Z" fill="#000" stroke="#000" stroke-width="0.3"/>
<path d="M159.95,269.50L160.80,266.00A1.3,1.3 0 0 0 158.20,266.00L159.05,269.50ZM159.64,269.93L163.23,269.65A1.3,1.3 0 0 0 162.43,267.18L159.36,269.07ZM159.64,269.07L156.57,267.18A1.3,1.3 0 0 0 155.77,269.65L159.36,269.93ZM159.14,269.76L160.51,273.10A1.3,1.3 0 0 0 162.61,271.57L159.86,269.24ZM159.14,269.24L156.39,271.57A1.3,1.3 0 0 0 158.49,273.10L159.86,269.76Z" fill="#000" stroke="#000" stroke-width="0.3"/>
<path d="M181.70,259.05L178.50,273.55M186.50,259.05L183.30,273.55M176.75,263.90H188.25M176.75,268.90H188.25" stroke="#000" stroke-width="1.7" fill="none"/>
<path d="M204.70,259.05L201.50,273.55M209.50,259.05L206.30,273.55M199.75,263.90H211.25M199.75,268.90H211.25" stroke="#000" stroke-width="1.7" fill="none"/>
<path d="M227.80,261.70L233.30,267.20L227.80,272.70L222.30,267.20Z" fill="#000"/>
<rect x="72.95" y="237.05" width="18.30" height="9.20" fill="#f00" stroke="#000" stroke-width="2.5" rx="1.2"/>
<rect x="148.35" y="237.25" width="19.80" height="9.40" fill="#008000" stroke="#000" stroke-width="2.5" rx="1.2"/>
<rect x="193.35" y="237.25" width="19.30" height="9.40" fill="#0000cc" stroke="#000" stroke-width="2.5" rx="1.2"/>
<text x="102.47" y="246.06" font-size="11.81" font-weight="bold" textLength="38.66" lengthAdjust="spacingAndGlyphs">G0/G1</text>
<text x="178.80" y="245.68" font-size="12.39" font-weight="bold" textLength="8.89" lengthAdjust="spacingAndGlyphs">S</text>
<text x="223.47" y="245.56" font-size="11.81" font-weight="bold" textLength="32.67" lengthAdjust="spacingAndGlyphs">G2/M</text>
<text transform="translate(41.54,373.93) rotate(-90)" x="0" y="0" font-size="12.19" font-weight="bold" textLength="118.57" lengthAdjust="spacingAndGlyphs" stroke="#000" stroke-width="0.2">Cell proportion (%)</text>
<text x="7.84" y="398.50" font-size="12.89" font-weight="normal" textLength="62.79" lengthAdjust="spacingAndGlyphs" stroke="#000" stroke-width="0.55" stroke-linejoin="round">PDGF-BB</text>
<text x="13.90" y="414.60" font-size="12.31" font-weight="normal" textLength="51.05" lengthAdjust="spacingAndGlyphs" stroke="#000" stroke-width="0.55" stroke-linejoin="round">miR-223</text>
<text x="3.72" y="435.58" font-size="14.21" font-weight="normal" textLength="64.37" lengthAdjust="spacingAndGlyphs" stroke="#000" stroke-width="0.55" stroke-linejoin="round">LV-NFAT5</text>
<path d="M85.30,394.10H92.30" stroke="#000" stroke-width="3" fill="none"/>
<path d="M108.00,394.10H115.40M111.70,390.50V397.70" stroke="#000" stroke-width="2" fill="none"/>
<path d="M132.40,394.10H139.40" stroke="#000" stroke-width="3" fill="none"/>
<path d="M155.30,394.10H162.30" stroke="#000" stroke-width="3" fill="none"/>
<path d="M177.50,394.10H184.90M181.20,390.50V397.70" stroke="#000" stroke-width="2" fill="none"/>
<path d="M200.50,394.10H207.90M204.20,390.50V397.70" stroke="#000" stroke-width="2" fill="none"/>
<path d="M222.20,394.10H229.60M225.90,390.50V397.70" stroke="#000" stroke-width="2" fill="none"/>
<path d="M85.30,411.80H92.30" stroke="#000" stroke-width="3" fill="none"/>
<path d="M108.20,411.80H115.20" stroke="#000" stroke-width="3" fill="none"/>
<path d="M132.20,411.80H139.60M135.90,408.20V415.40" stroke="#000" stroke-width="2" fill="none"/>
<path d="M155.30,411.80H162.30" stroke="#000" stroke-width="3" fill="none"/>
<path d="M177.50,411.80H184.90M181.20,408.20V415.40" stroke="#000" stroke-width="2" fill="none"/>
<path d="M200.70,411.80H207.70" stroke="#000" stroke-width="3" fill="none"/>
<path d="M222.20,411.80H229.60M225.90,408.20V415.40" stroke="#000" stroke-width="2" fill="none"/>
<path d="M85.30,429.80H92.30" stroke="#000" stroke-width="3" fill="none"/>
<path d="M108.20,429.80H115.20" stroke="#000" stroke-width="3" fill="none"/>
<path d="M132.40,429.80H139.40" stroke="#000" stroke-width="3" fill="none"/>
<path d="M155.10,429.80H162.50M158.80,426.20V433.40" stroke="#000" stroke-width="2" fill="none"/>
<path d="M177.70,429.80H184.70" stroke="#000" stroke-width="3" fill="none"/>
<path d="M200.50,429.80H207.90M204.20,426.20V433.40" stroke="#000" stroke-width="2" fill="none"/>
<path d="M222.20,429.80H229.60M225.90,426.20V433.40" stroke="#000" stroke-width="2" fill="none"/>
<path d="M323.7,253.70V375.20" stroke="#000" stroke-width="2.4" fill="none"/>
<path d="M318.2,374.00H323.7M318.2,354.00H323.7M318.2,334.00H323.7M318.2,314.00H323.7M318.2,294.00H323.7M318.2,274.00H323.7M318.2,254.00H323.7" stroke="#000" stroke-width="2.2" fill="none"/>
<text x="310.02" y="378.51" font-size="11.62" font-weight="bold" textLength="7.08" lengthAdjust="spacingAndGlyphs" stroke="#000" stroke-width="0.45" stroke-linejoin="round">0</text>
<text x="303.24" y="358.51" font-size="11.62" font-weight="bold" textLength="13.86" lengthAdjust="spacingAndGlyphs" stroke="#000" stroke-width="0.45" stroke-linejoin="round">20</text>
<text x="303.49" y="338.51" font-size="11.62" font-weight="bold" textLength="13.60" lengthAdjust="spacingAndGlyphs" stroke="#000" stroke-width="0.45" stroke-linejoin="round">40</text>
<text x="303.24" y="318.51" font-size="11.62" font-weight="bold" textLength="13.86" lengthAdjust="spacingAndGlyphs" stroke="#000" stroke-width="0.45" stroke-linejoin="round">60</text>
<text x="303.30" y="298.51" font-size="11.62" font-weight="bold" textLength="13.80" lengthAdjust="spacingAndGlyphs" stroke="#000" stroke-width="0.45" stroke-linejoin="round">80</text>
<text x="296.07" y="278.51" font-size="11.62" font-weight="bold" textLength="21.06" lengthAdjust="spacingAndGlyphs" stroke="#000" stroke-width="0.45" stroke-linejoin="round">100</text>
<text x="296.07" y="258.51" font-size="11.62" font-weight="bold" textLength="21.06" lengthAdjust="spacingAndGlyphs" stroke="#000" stroke-width="0.45" stroke-linejoin="round">120</text>
<rect x="327.70" y="274.10" width="15.80" height="14.60" fill="#0000cc"/>
<rect x="327.70" y="288.70" width="15.80" height="21.20" fill="#008000"/>
<rect x="327.70" y="309.90" width="15.80" height="64.10" fill="#f00"/>
<path d="M327.70,288.70H343.50M327.70,309.90H343.50" stroke="#000" stroke-width="2.4"/>
<rect x="327.70" y="274.10" width="15.80" height="99.90" fill="none" stroke="#000" stroke-width="2.4" stroke-linejoin="round"/>
<rect x="352.45" y="274.10" width="15.80" height="9.20" fill="#0000cc"/>
<rect x="352.45" y="283.30" width="15.80" height="28.00" fill="#008000"/>
<rect x="352.45" y="311.30" width="15.80" height="62.70" fill="#f00"/>
<path d="M352.45,283.30H368.25M352.45,311.30H368.25" stroke="#000" stroke-width="2.4"/>
<rect x="352.45" y="274.10" width="15.80" height="99.90" fill="none" stroke="#000" stroke-width="2.4" stroke-linejoin="round"/>
<rect x="377.20" y="274.10" width="15.80" height="8.50" fill="#0000cc"/>
<rect x="377.20" y="282.60" width="15.80" height="27.60" fill="#008000"/>
<rect x="377.20" y="310.20" width="15.80" height="63.80" fill="#f00"/>
<path d="M377.20,282.60H393.00M377.20,310.20H393.00" stroke="#000" stroke-width="2.4"/>
<rect x="377.20" y="274.10" width="15.80" height="99.90" fill="none" stroke="#000" stroke-width="2.4" stroke-linejoin="round"/>
<rect x="401.95" y="274.10" width="15.80" height="22.70" fill="#0000cc"/>
<rect x="401.95" y="296.80" width="15.80" height="13.60" fill="#008000"/>
<rect x="401.95" y="310.40" width="15.80" height="63.60" fill="#f00"/>
<path d="M401.95,296.80H417.75M401.95,310.40H417.75" stroke="#000" stroke-width="2.4"/>
<rect x="401.95" y="274.10" width="15.80" height="99.90" fill="none" stroke="#000" stroke-width="2.4" stroke-linejoin="round"/>
<rect x="426.70" y="274.10" width="15.80" height="5.60" fill="#0000cc"/>
<rect x="426.70" y="279.70" width="15.80" height="33.10" fill="#008000"/>
<rect x="426.70" y="312.80" width="15.80" height="61.20" fill="#f00"/>
<path d="M426.70,279.70H442.50M426.70,312.80H442.50" stroke="#000" stroke-width="2.4"/>
<rect x="426.70" y="274.10" width="15.80" height="99.90" fill="none" stroke="#000" stroke-width="2.4" stroke-linejoin="round"/>
<rect x="451.45" y="274.10" width="15.80" height="14.60" fill="#0000cc"/>
<rect x="451.45" y="288.70" width="15.80" height="22.20" fill="#008000"/>
<rect x="451.45" y="310.90" width="15.80" height="63.10" fill="#f00"/>
<path d="M451.45,288.70H467.25M451.45,310.90H467.25" stroke="#000" stroke-width="2.4"/>
<rect x="451.45" y="274.10" width="15.80" height="99.90" fill="none" stroke="#000" stroke-width="2.4" stroke-linejoin="round"/>
<rect x="476.20" y="274.10" width="15.80" height="10.40" fill="#0000cc"/>
<rect x="476.20" y="284.50" width="15.80" height="27.40" fill="#008000"/>
<rect x="476.20" y="311.90" width="15.80" height="62.10" fill="#f00"/>
<path d="M476.20,284.50H492.00M476.20,311.90H492.00" stroke="#000" stroke-width="2.4"/>
<rect x="476.20" y="274.10" width="15.80" height="99.90" fill="none" stroke="#000" stroke-width="2.4" stroke-linejoin="round"/>
<path d="M322.5,374H497" stroke="#000" stroke-width="2.4" fill="none"/>
<path d="M335.60,374V380.5M360.35,374V380.5M385.10,374V380.5M409.85,374V380.5M434.60,374V380.5M459.35,374V380.5M484.10,374V380.5" stroke="#000" stroke-width="2.2" fill="none"/>
<path d="M361.95,267.20L362.80,263.70A1.3,1.3 0 0 0 360.20,263.70L361.05,267.20ZM361.64,267.63L365.23,267.35A1.3,1.3 0 0 0 364.43,264.88L361.36,266.77ZM361.64,266.77L358.57,264.88A1.3,1.3 0 0 0 357.77,267.35L361.36,267.63ZM361.14,267.46L362.51,270.80A1.3,1.3 0 0 0 364.61,269.27L361.86,266.94ZM361.14,266.94L358.39,269.27A1.3,1.3 0 0 0 360.49,270.80L361.86,267.46Z" fill="#000" stroke="#000" stroke-width="0.3"/>
<path d="M386.45,267.20L387.30,263.70A1.3,1.3 0 0 0 384.70,263.70L385.55,267.20ZM386.14,267.63L389.73,267.35A1.3,1.3 0 0 0 388.93,264.88L385.86,266.77ZM386.14,266.77L383.07,264.88A1.3,1.3 0 0 0 382.27,267.35L385.86,267.63ZM385.64,267.46L387.01,270.80A1.3,1.3 0 0 0 389.11,269.27L386.36,266.94ZM385.64,266.94L382.89,269.27A1.3,1.3 0 0 0 384.99,270.80L386.36,267.46Z" fill="#000" stroke="#000" stroke-width="0.3"/>
<path d="M413.15,267.20L414.00,263.70A1.3,1.3 0 0 0 411.40,263.70L412.25,267.20ZM412.84,267.63L416.43,267.35A1.3,1.3 0 0 0 415.63,264.88L412.56,266.77ZM412.84,266.77L409.77,264.88A1.3,1.3 0 0 0 408.97,267.35L412.56,267.63ZM412.34,267.46L413.71,270.80A1.3,1.3 0 0 0 415.81,269.27L413.06,266.94ZM412.34,266.94L409.59,269.27A1.3,1.3 0 0 0 411.69,270.80L413.06,267.46Z" fill="#000" stroke="#000" stroke-width="0.3"/>
<path d="M435.50,256.65L432.30,271.15M440.30,256.65L437.10,271.15M430.55,261.50H442.05M430.55,266.50H442.05" stroke="#000" stroke-width="1.7" fill="none"/>
<path d="M460.20,256.65L457.00,271.15M465.00,256.65L461.80,271.15M455.25,261.50H466.75M455.25,266.50H466.75" stroke="#000" stroke-width="1.7" fill="none"/>
<path d="M485.60,260.10L491.10,265.60L485.60,271.10L480.10,265.60Z" fill="#000"/>
<rect x="320.65" y="237.25" width="18.40" height="8.10" fill="#f00" stroke="#000" stroke-width="2.5" rx="1.2"/>
<rect x="398.45" y="237.45" width="18.70" height="8.10" fill="#008000" stroke="#000" stroke-width="2.5" rx="1.2"/>
<rect x="445.05" y="237.45" width="19.50" height="8.10" fill="#0000cc" stroke="#000" stroke-width="2.5" rx="1.2"/>
<text x="350.78" y="245.57" font-size="11.54" font-weight="bold" textLength="38.25" lengthAdjust="spacingAndGlyphs">G0/G1</text>
<text x="427.90" y="245.68" font-size="12.11" font-weight="bold" textLength="8.89" lengthAdjust="spacingAndGlyphs">S</text>
<text x="475.27" y="245.57" font-size="11.54" font-weight="bold" textLength="32.67" lengthAdjust="spacingAndGlyphs">G2/M</text>
<text transform="translate(287.86,373.93) rotate(-90)" x="0" y="0" font-size="13.05" font-weight="bold" textLength="119.69" lengthAdjust="spacingAndGlyphs" stroke="#000" stroke-width="0.2">Cell proportion (%)</text>
<text x="253.14" y="400.40" font-size="12.89" font-weight="normal" textLength="63.30" lengthAdjust="spacingAndGlyphs" stroke="#000" stroke-width="0.55" stroke-linejoin="round">PDGF-BB</text>
<text x="245.58" y="418.50" font-size="12.72" font-weight="normal" textLength="79.90" lengthAdjust="spacingAndGlyphs" stroke="#000" stroke-width="0.55" stroke-linejoin="round">Anti-miR-223</text>
<text x="258.04" y="437.19" font-size="13.13" font-weight="normal" textLength="54.36" lengthAdjust="spacingAndGlyphs" stroke="#000" stroke-width="0.55" stroke-linejoin="round">siNFAT5</text>
<path d="M334.10,397.10H341.10" stroke="#000" stroke-width="3" fill="none"/>
<path d="M357.20,397.10H364.60M360.90,393.50V400.70" stroke="#000" stroke-width="2" fill="none"/>
<path d="M382.70,397.10H389.70" stroke="#000" stroke-width="3" fill="none"/>
<path d="M407.40,397.10H414.40" stroke="#000" stroke-width="3" fill="none"/>
<path d="M432.20,397.10H439.60M435.90,393.50V400.70" stroke="#000" stroke-width="2" fill="none"/>
<path d="M456.90,397.10H464.30M460.60,393.50V400.70" stroke="#000" stroke-width="2" fill="none"/>
<path d="M481.30,397.10H488.70M485.00,393.50V400.70" stroke="#000" stroke-width="2" fill="none"/>
<path d="M334.10,414.40H341.10" stroke="#000" stroke-width="3" fill="none"/>
<path d="M357.40,414.40H364.40" stroke="#000" stroke-width="3" fill="none"/>
<path d="M382.50,414.40H389.90M386.20,410.80V418.00" stroke="#000" stroke-width="2" fill="none"/>
<path d="M407.40,414.40H414.40" stroke="#000" stroke-width="3" fill="none"/>
<path d="M432.20,414.40H439.60M435.90,410.80V418.00" stroke="#000" stroke-width="2" fill="none"/>
<path d="M457.10,414.40H464.10" stroke="#000" stroke-width="3" fill="none"/>
<path d="M481.30,414.40H488.70M485.00,410.80V418.00" stroke="#000" stroke-width="2" fill="none"/>
<path d="M334.10,432.40H341.10" stroke="#000" stroke-width="3" fill="none"/>
<path d="M357.40,432.40H364.40" stroke="#000" stroke-width="3" fill="none"/>
<path d="M382.70,432.40H389.70" stroke="#000" stroke-width="3" fill="none"/>
<path d="M407.20,432.40H414.60M410.90,428.80V436.00" stroke="#000" stroke-width="2" fill="none"/>
<path d="M432.40,432.40H439.40" stroke="#000" stroke-width="3" fill="none"/>
<path d="M456.90,432.40H464.30M460.60,428.80V436.00" stroke="#000" stroke-width="2" fill="none"/>
<path d="M481.30,432.40H488.70M485.00,428.80V436.00" stroke="#000" stroke-width="2" fill="none"/>
<rect x="86.1" y="125.1" width="107.10" height="21.50" fill="#c4c4c4"/>
<rect x="86.1" y="148.8" width="107.10" height="20.90" fill="#c2c2c2"/>
<clipPath id="k1"><rect x="86.1" y="125.1" width="107.10" height="21.50"/></clipPath><g clip-path="url(#k1)">
<g filter="url(#bl3)" fill="#4a4a4a" opacity="0.45"><ellipse cx="92.20" cy="136.00" rx="5.20" ry="4.90"/><ellipse cx="99.00" cy="136.00" rx="5.20" ry="4.90"/><rect x="91.90" y="132.21" width="7.40" height="7.58"/></g>
<g filter="url(#bl2)" fill="#4a4a4a"><ellipse cx="92.20" cy="136.00" rx="4.00" ry="3.70"/><ellipse cx="99.00" cy="136.00" rx="4.00" ry="3.70"/><rect x="91.90" y="133.41" width="7.40" height="5.18"/></g>
<rect x="106.40" y="128.80" width="28.90" height="13.60" rx="6.80" fill="#000" opacity="0.45" filter="url(#bl3)"/>
<rect x="107.60" y="130.00" width="26.50" height="11.20" rx="5.60" fill="#000" filter="url(#bl2)"/>
<rect x="136.40" y="130.60" width="23.40" height="11.80" rx="5.90" fill="#000" opacity="0.45" filter="url(#bl3)"/>
<rect x="137.60" y="131.80" width="21.00" height="9.40" rx="4.70" fill="#000" filter="url(#bl2)"/>
<rect x="161.20" y="127.60" width="31.80" height="16.60" rx="8.30" fill="#000" opacity="0.45" filter="url(#bl3)"/>
<rect x="162.40" y="128.80" width="29.40" height="14.20" rx="7.10" fill="#000" filter="url(#bl2)"/>
</g>
<clipPath id="k2"><rect x="86.1" y="148.8" width="107.10" height="20.90"/></clipPath><g clip-path="url(#k2)">
<rect x="87.00" y="152.30" width="23.60" height="12.90" rx="6.45" fill="#000" opacity="0.45" filter="url(#bl3)"/>
<rect x="88.20" y="153.50" width="21.20" height="10.50" rx="5.25" fill="#000" filter="url(#bl2)"/>
<rect x="113.50" y="152.80" width="23.00" height="11.40" rx="5.70" fill="#000" opacity="0.45" filter="url(#bl3)"/>
<rect x="114.70" y="154.00" width="20.60" height="9.00" rx="4.50" fill="#000" filter="url(#bl2)"/>
<rect x="140.00" y="152.80" width="23.60" height="11.40" rx="5.70" fill="#000" opacity="0.45" filter="url(#bl3)"/>
<rect x="141.20" y="154.00" width="21.20" height="9.00" rx="4.50" fill="#000" filter="url(#bl2)"/>
<rect x="166.40" y="153.50" width="25.40" height="13.00" rx="6.50" fill="#000" opacity="0.45" filter="url(#bl3)"/>
<rect x="167.60" y="154.70" width="23.00" height="10.60" rx="5.30" fill="#000" filter="url(#bl2)"/>
</g>
<text x="33.69" y="140.76" font-size="14.43" font-weight="bold" textLength="43.51" lengthAdjust="spacingAndGlyphs">NFAT5</text>
<text x="33.11" y="161.47" font-size="14.35" font-weight="normal" textLength="8.14" lengthAdjust="spacingAndGlyphs" stroke="#000" stroke-width="0.5" stroke-linejoin="round" style="font-family:'Liberation Serif',serif">β</text>
<text x="41.36" y="161.26" font-size="13.74" font-weight="bold" textLength="36.29" lengthAdjust="spacingAndGlyphs">-actin</text>
<rect x="284.1" y="125.9" width="107.10" height="20.90" fill="#b9b9b9"/>
<rect x="284.1" y="148.8" width="107.10" height="21.60" fill="#c6c6c6"/>
<clipPath id="k3"><rect x="284.1" y="125.9" width="107.10" height="20.90"/></clipPath><g clip-path="url(#k3)">
<rect x="284.10" y="130.60" width="21.20" height="9.20" rx="4.60" fill="#000" opacity="0.45" filter="url(#bl3)"/>
<rect x="285.30" y="131.80" width="18.80" height="6.80" rx="3.40" fill="#000" filter="url(#bl2)"/>
<rect x="311.80" y="133.20" width="17.00" height="3.80" rx="1.90" fill="#7a7a7a" filter="url(#bl2)"/>
<rect x="320.00" y="133.20" width="8.80" height="4.30" rx="2.15" fill="#222" filter="url(#bl2)"/>
<rect x="333.50" y="130.00" width="30.10" height="12.40" rx="6.20" fill="#000" opacity="0.45" filter="url(#bl3)"/>
<rect x="334.70" y="131.20" width="27.70" height="10.00" rx="5.00" fill="#000" filter="url(#bl2)"/>
<rect x="364.70" y="132.00" width="25.30" height="11.00" rx="5.50" fill="#000" opacity="0.45" filter="url(#bl3)"/>
<rect x="365.90" y="133.20" width="22.90" height="8.60" rx="4.30" fill="#000" filter="url(#bl2)"/>
</g>
<clipPath id="k4"><rect x="284.1" y="148.8" width="107.10" height="21.60"/></clipPath><g clip-path="url(#k4)">
<rect x="285.90" y="152.90" width="24.70" height="13.00" rx="6.50" fill="#000" opacity="0.45" filter="url(#bl3)"/>
<rect x="287.10" y="154.10" width="22.30" height="10.60" rx="5.30" fill="#000" filter="url(#bl2)"/>
<rect x="309.40" y="154.10" width="28.30" height="12.40" rx="6.20" fill="#000" opacity="0.45" filter="url(#bl3)"/>
<rect x="310.60" y="155.30" width="25.90" height="10.00" rx="5.00" fill="#000" filter="url(#bl2)"/>
<rect x="336.40" y="154.10" width="27.20" height="13.00" rx="6.50" fill="#000" opacity="0.45" filter="url(#bl3)"/>
<rect x="337.60" y="155.30" width="24.80" height="10.60" rx="5.30" fill="#000" filter="url(#bl2)"/>
<rect x="362.90" y="152.90" width="27.70" height="14.80" rx="7.40" fill="#000" opacity="0.45" filter="url(#bl3)"/>
<rect x="364.10" y="154.10" width="25.30" height="12.40" rx="6.20" fill="#000" filter="url(#bl2)"/>
</g>
<text x="227.37" y="140.76" font-size="14.43" font-weight="bold" textLength="44.13" lengthAdjust="spacingAndGlyphs">NFAT5</text>
<text x="227.21" y="161.47" font-size="14.35" font-weight="normal" textLength="8.14" lengthAdjust="spacingAndGlyphs" stroke="#000" stroke-width="0.5" stroke-linejoin="round" style="font-family:'Liberation Serif',serif">β</text>
<text x="235.46" y="161.26" font-size="13.74" font-weight="bold" textLength="36.29" lengthAdjust="spacingAndGlyphs">-actin</text>
<text x="118.81" y="59.56" font-size="13.88" font-weight="bold" textLength="34.90" lengthAdjust="spacingAndGlyphs">Mock</text>
<text x="173.93" y="60.39" font-size="13.59" font-weight="normal" textLength="63.61" lengthAdjust="spacingAndGlyphs" stroke="#000" stroke-width="0.55" stroke-linejoin="round">PDGF-BB</text>
<text x="308.32" y="59.56" font-size="13.74" font-weight="bold" textLength="34.70" lengthAdjust="spacingAndGlyphs">Mock</text>
<text x="363.33" y="59.90" font-size="12.61" font-weight="normal" textLength="63.40" lengthAdjust="spacingAndGlyphs" stroke="#000" stroke-width="0.55" stroke-linejoin="round">PDGF-BB</text>
<path d="M107,66H163M173.3,64H235.1M296.3,65.8H352.5M363,64.5H424.7" stroke="#000" stroke-width="2.1"/>
<text transform="translate(96.98,118.62) rotate(-45)" x="0" y="0" font-size="13.6" font-weight="bold" stroke="#000" stroke-width="0.3">LV-NC</text>
<text transform="translate(122.58,118.62) rotate(-45)" x="0" y="0" font-size="13.6" font-weight="bold" stroke="#000" stroke-width="0.3">LV-NFAT5</text>
<text transform="translate(160.78,118.62) rotate(-45)" x="0" y="0" font-size="13.6" font-weight="bold" stroke="#000" stroke-width="0.3">LV-NC</text>
<text transform="translate(190.98,118.62) rotate(-45)" x="0" y="0" font-size="13.6" font-weight="bold" stroke="#000" stroke-width="0.3">LV-NFAT5</text>
<text transform="translate(294.46,118.84) rotate(-45)" x="0" y="0" font-size="13.6" font-weight="bold" stroke="#000" stroke-width="0.3">siNC</text>
<text transform="translate(320.96,118.84) rotate(-45)" x="0" y="0" font-size="13.6" font-weight="bold" stroke="#000" stroke-width="0.3">siNFAT5</text>
<text transform="translate(350.86,118.34) rotate(-45)" x="0" y="0" font-size="13.6" font-weight="bold" stroke="#000" stroke-width="0.3">siNC</text>
<text transform="translate(377.26,118.74) rotate(-45)" x="0" y="0" font-size="13.6" font-weight="bold" stroke="#000" stroke-width="0.3">siNFAT5</text>
<rect x="94.1" y="489.1" width="178.80" height="21.40" fill="#c9c9c9"/>
<rect x="94.1" y="514.4" width="178.80" height="20.30" fill="#cfcfcf"/>
<rect x="94.1" y="537.9" width="178.80" height="20.90" fill="#c4c4c4"/>
<clipPath id="k5"><rect x="94.1" y="489.1" width="178.80" height="21.40"/></clipPath><g clip-path="url(#k5)">
<rect x="104.00" y="499.00" width="14.00" height="3.00" rx="1.50" fill="#aaa" filter="url(#bl2)"/>
<rect x="110.50" y="498.70" width="7.50" height="3.80" rx="1.90" fill="#666" filter="url(#bl2)"/>
<rect x="119.80" y="496.10" width="28.20" height="9.20" rx="4.60" fill="#000" opacity="0.45" filter="url(#bl3)"/>
<rect x="121.00" y="497.30" width="25.80" height="6.80" rx="3.40" fill="#000" filter="url(#bl2)"/>
<rect x="166.20" y="496.10" width="29.20" height="9.20" rx="4.60" fill="#000" opacity="0.45" filter="url(#bl3)"/>
<rect x="167.40" y="497.30" width="26.80" height="6.80" rx="3.40" fill="#000" filter="url(#bl2)"/>
<rect x="194.90" y="496.40" width="24.30" height="8.00" rx="4.00" fill="#000" opacity="0.45" filter="url(#bl3)"/>
<rect x="196.10" y="497.60" width="21.90" height="5.60" rx="2.80" fill="#000" filter="url(#bl2)"/>
<rect x="214.90" y="493.40" width="36.30" height="13.60" rx="6.80" fill="#000" opacity="0.45" filter="url(#bl3)"/>
<rect x="216.10" y="494.60" width="33.90" height="11.20" rx="5.60" fill="#000" filter="url(#bl2)"/>
<rect x="236.80" y="494.60" width="34.10" height="11.20" rx="5.60" fill="#000" opacity="0.45" filter="url(#bl3)"/>
<rect x="238.00" y="495.80" width="31.70" height="8.80" rx="4.40" fill="#000" filter="url(#bl2)"/>
</g>
<clipPath id="k6"><rect x="94.1" y="514.4" width="178.80" height="20.30"/></clipPath><g clip-path="url(#k6)">
<rect x="97.70" y="520.80" width="18.10" height="4.60" rx="2.30" fill="#2a2a2a" filter="url(#bl2)"/>
<rect x="117.40" y="518.00" width="29.90" height="10.20" rx="5.10" fill="#000" opacity="0.45" filter="url(#bl3)"/>
<rect x="118.60" y="519.20" width="27.50" height="7.80" rx="3.90" fill="#000" filter="url(#bl2)"/>
<g filter="url(#bl2)"><path d="M171.5,530 Q175,522.5 189,522.2 Q191,525.5 187.5,527 Q179,527.5 174.5,531.5Z" fill="#111"/></g>
<rect x="196.80" y="521.30" width="20.60" height="3.10" rx="1.55" fill="#222" filter="url(#bl2)"/>
<rect x="216.20" y="517.60" width="30.20" height="9.90" rx="4.95" fill="#000" opacity="0.45" filter="url(#bl3)"/>
<rect x="217.40" y="518.80" width="27.80" height="7.50" rx="3.75" fill="#000" filter="url(#bl2)"/>
<rect x="247.20" y="519.30" width="24.30" height="7.20" rx="3.60" fill="#000" opacity="0.45" filter="url(#bl3)"/>
<rect x="248.40" y="520.50" width="21.90" height="4.80" rx="2.40" fill="#000" filter="url(#bl2)"/>
</g>
<clipPath id="k7"><rect x="94.1" y="537.9" width="178.80" height="20.90"/></clipPath><g clip-path="url(#k7)">
<g filter="url(#bl3)" fill="#000" opacity="0.45"><ellipse cx="103.32" cy="548.85" rx="6.52" ry="7.05"/><ellipse cx="112.38" cy="548.85" rx="6.52" ry="7.05"/><rect x="102.92" y="542.68" width="9.85" height="12.35"/></g>
<g filter="url(#bl2)" fill="#000"><ellipse cx="103.32" cy="548.85" rx="5.32" ry="5.85"/><ellipse cx="112.38" cy="548.85" rx="5.32" ry="5.85"/><rect x="102.92" y="543.88" width="9.85" height="9.95"/></g>
<g filter="url(#bl3)" fill="#000" opacity="0.45"><ellipse cx="126.65" cy="545.65" rx="6.25" ry="5.75"/><ellipse cx="135.25" cy="545.65" rx="6.25" ry="5.75"/><rect x="126.28" y="540.58" width="9.35" height="10.14"/></g>
<g filter="url(#bl2)" fill="#000"><ellipse cx="126.65" cy="545.65" rx="5.05" ry="4.55"/><ellipse cx="135.25" cy="545.65" rx="5.05" ry="4.55"/><rect x="126.28" y="541.78" width="9.35" height="7.74"/></g>
<g filter="url(#bl3)" fill="#000" opacity="0.45"><ellipse cx="150.11" cy="546.65" rx="7.11" ry="6.05"/><ellipse cx="160.19" cy="546.65" rx="7.11" ry="6.05"/><rect x="149.67" y="541.33" width="10.95" height="10.65"/></g>
<g filter="url(#bl2)" fill="#000"><ellipse cx="150.11" cy="546.65" rx="5.91" ry="4.85"/><ellipse cx="160.19" cy="546.65" rx="5.91" ry="4.85"/><rect x="149.67" y="542.53" width="10.95" height="8.25"/></g>
<g filter="url(#bl3)" fill="#000" opacity="0.45"><ellipse cx="177.05" cy="548.20" rx="7.65" ry="5.70"/><ellipse cx="188.05" cy="548.20" rx="7.65" ry="5.70"/><rect x="176.57" y="543.17" width="11.95" height="10.05"/></g>
<g filter="url(#bl2)" fill="#000"><ellipse cx="177.05" cy="548.20" rx="6.45" ry="4.50"/><ellipse cx="188.05" cy="548.20" rx="6.45" ry="4.50"/><rect x="176.57" y="544.38" width="11.95" height="7.65"/></g>
<g filter="url(#bl3)" fill="#000" opacity="0.45"><ellipse cx="205.40" cy="546.95" rx="6.60" ry="6.35"/><ellipse cx="214.60" cy="546.95" rx="6.60" ry="6.35"/><rect x="205.00" y="541.37" width="10.00" height="11.16"/></g>
<g filter="url(#bl2)" fill="#000"><ellipse cx="205.40" cy="546.95" rx="5.40" ry="5.15"/><ellipse cx="214.60" cy="546.95" rx="5.40" ry="5.15"/><rect x="205.00" y="542.57" width="10.00" height="8.76"/></g>
<rect x="222.00" y="539.90" width="23.10" height="13.70" rx="6.85" fill="#000" opacity="0.45" filter="url(#bl3)"/>
<rect x="223.20" y="541.10" width="20.70" height="11.30" rx="5.65" fill="#000" filter="url(#bl2)"/>
<g filter="url(#bl3)" fill="#000" opacity="0.45"><ellipse cx="254.31" cy="548.55" rx="7.11" ry="4.75"/><ellipse cx="264.39" cy="548.55" rx="7.11" ry="4.75"/><rect x="253.88" y="544.33" width="10.95" height="8.44"/></g>
<g filter="url(#bl2)" fill="#000"><ellipse cx="254.31" cy="548.55" rx="5.91" ry="3.55"/><ellipse cx="264.39" cy="548.55" rx="5.91" ry="3.55"/><rect x="253.88" y="545.53" width="10.95" height="6.04"/></g>
</g>
<rect x="378.6" y="490.8" width="179.10" height="21.00" fill="#b0b0b0"/>
<rect x="378.6" y="514" width="179.10" height="20.70" fill="#acacac"/>
<rect x="378.6" y="537.9" width="179.10" height="20.60" fill="#c2c2c2"/>
<clipPath id="k8"><rect x="378.6" y="490.8" width="179.10" height="21.00"/></clipPath><g clip-path="url(#k8)">
<rect x="382.00" y="497.50" width="10.00" height="5.00" rx="2.50" fill="#9a9a9a" filter="url(#bl3)"/>
<g filter="url(#bl3)" fill="#000" opacity="0.45"><ellipse cx="411.24" cy="500.50" rx="7.14" ry="5.70"/><ellipse cx="421.36" cy="500.50" rx="7.14" ry="5.70"/><rect x="410.80" y="495.48" width="11.00" height="10.05"/></g>
<g filter="url(#bl2)" fill="#000"><ellipse cx="411.24" cy="500.50" rx="5.94" ry="4.50"/><ellipse cx="421.36" cy="500.50" rx="5.94" ry="4.50"/><rect x="410.80" y="496.68" width="11.00" height="7.65"/></g>
<rect x="431.20" y="496.10" width="27.60" height="9.50" rx="4.75" fill="#000" opacity="0.45" filter="url(#bl3)"/>
<rect x="432.40" y="497.30" width="25.20" height="7.10" rx="3.55" fill="#000" filter="url(#bl2)"/>
<rect x="481.40" y="494.80" width="27.50" height="14.90" rx="7.45" fill="#000" opacity="0.45" filter="url(#bl3)"/>
<rect x="482.60" y="496.00" width="25.10" height="12.50" rx="6.25" fill="#000" filter="url(#bl2)"/>
<g filter="url(#bl3)" fill="#000" opacity="0.45"><ellipse cx="514.31" cy="503.05" rx="7.11" ry="4.95"/><ellipse cx="524.39" cy="503.05" rx="7.11" ry="4.95"/><rect x="513.88" y="499.23" width="10.95" height="7.65"/></g>
<g filter="url(#bl2)" fill="#000"><ellipse cx="514.31" cy="503.05" rx="5.91" ry="3.75"/><ellipse cx="524.39" cy="503.05" rx="5.91" ry="3.75"/><rect x="513.88" y="500.43" width="10.95" height="5.25"/></g>
<rect x="534.30" y="498.00" width="21.70" height="11.20" rx="5.60" fill="#000" opacity="0.45" filter="url(#bl3)"/>
<rect x="535.50" y="499.20" width="19.30" height="8.80" rx="4.40" fill="#000" filter="url(#bl2)"/>
<path d="M552.5,492V506" stroke="#333" stroke-width="1.5" filter="url(#bl2)"/>
</g>
<clipPath id="k9"><rect x="378.6" y="514" width="179.10" height="20.70"/></clipPath><g clip-path="url(#k9)">
<rect x="380.20" y="522.40" width="14.20" height="4.60" rx="2.30" fill="#6a6a6a" filter="url(#bl2)"/>
<g filter="url(#bl3)" fill="#000" opacity="0.45"><ellipse cx="407.22" cy="523.70" rx="6.92" ry="5.10"/><ellipse cx="416.98" cy="523.70" rx="6.92" ry="5.10"/><rect x="406.80" y="519.18" width="10.60" height="9.03"/></g>
<g filter="url(#bl2)" fill="#000"><ellipse cx="407.22" cy="523.70" rx="5.72" ry="3.90"/><ellipse cx="416.98" cy="523.70" rx="5.72" ry="3.90"/><rect x="406.80" y="520.38" width="10.60" height="6.63"/></g>
<rect x="430.60" y="519.90" width="27.50" height="8.90" rx="4.45" fill="#000" opacity="0.45" filter="url(#bl3)"/>
<rect x="431.80" y="521.10" width="25.10" height="6.50" rx="3.25" fill="#000" filter="url(#bl2)"/>
<rect x="480.10" y="518.60" width="24.30" height="12.10" rx="6.05" fill="#000" opacity="0.45" filter="url(#bl3)"/>
<rect x="481.30" y="519.80" width="21.90" height="9.70" rx="4.85" fill="#000" filter="url(#bl2)"/>
<rect x="507.70" y="522.80" width="18.80" height="3.80" rx="1.90" fill="#111" filter="url(#bl2)"/>
<rect x="517.30" y="520.60" width="10.40" height="7.80" rx="3.90" fill="#000" opacity="0.45" filter="url(#bl3)"/>
<rect x="518.50" y="521.80" width="8.00" height="5.40" rx="2.70" fill="#000" filter="url(#bl2)"/>
<g filter="url(#bl3)" fill="#000" opacity="0.45"><ellipse cx="538.73" cy="523.70" rx="7.63" ry="7.00"/><ellipse cx="549.67" cy="523.70" rx="7.63" ry="7.00"/><rect x="538.25" y="517.57" width="11.90" height="12.26"/></g>
<g filter="url(#bl2)" fill="#000"><ellipse cx="538.73" cy="523.70" rx="6.43" ry="5.80"/><ellipse cx="549.67" cy="523.70" rx="6.43" ry="5.80"/><rect x="538.25" y="518.77" width="11.90" height="9.86"/></g>
</g>
<clipPath id="k10"><rect x="378.6" y="537.9" width="179.10" height="20.60"/></clipPath><g clip-path="url(#k10)">
<g filter="url(#bl3)" fill="#000" opacity="0.45"><ellipse cx="387.63" cy="549.20" rx="6.33" ry="5.40"/><ellipse cx="396.37" cy="549.20" rx="6.33" ry="5.40"/><rect x="387.25" y="544.43" width="9.50" height="9.54"/></g>
<g filter="url(#bl2)" fill="#000"><ellipse cx="387.63" cy="549.20" rx="5.13" ry="4.20"/><ellipse cx="396.37" cy="549.20" rx="5.13" ry="4.20"/><rect x="387.25" y="545.63" width="9.50" height="7.14"/></g>
<rect x="404.50" y="541.90" width="20.70" height="12.00" rx="6.00" fill="#000" opacity="0.45" filter="url(#bl3)"/>
<rect x="405.70" y="543.10" width="18.30" height="9.60" rx="4.80" fill="#000" filter="url(#bl2)"/>
<rect x="429.00" y="542.50" width="21.80" height="11.40" rx="5.70" fill="#000" opacity="0.45" filter="url(#bl3)"/>
<rect x="430.20" y="543.70" width="19.40" height="9.00" rx="4.50" fill="#000" filter="url(#bl2)"/>
<rect x="454.40" y="541.90" width="26.20" height="12.00" rx="6.00" fill="#000" opacity="0.45" filter="url(#bl3)"/>
<rect x="455.60" y="543.10" width="23.80" height="9.60" rx="4.80" fill="#000" filter="url(#bl2)"/>
<g filter="url(#bl3)" fill="#000" opacity="0.45"><ellipse cx="492.57" cy="546.95" rx="7.28" ry="5.75"/><ellipse cx="502.93" cy="546.95" rx="7.28" ry="5.75"/><rect x="492.12" y="541.88" width="11.25" height="10.14"/></g>
<g filter="url(#bl2)" fill="#000"><ellipse cx="492.57" cy="546.95" rx="6.08" ry="4.55"/><ellipse cx="502.93" cy="546.95" rx="6.08" ry="4.55"/><rect x="492.12" y="543.08" width="11.25" height="7.74"/></g>
<g filter="url(#bl3)" fill="#000" opacity="0.45"><ellipse cx="517.60" cy="547.90" rx="5.90" ry="6.00"/><ellipse cx="525.60" cy="547.90" rx="5.90" ry="6.00"/><rect x="517.25" y="542.62" width="8.70" height="10.56"/></g>
<g filter="url(#bl2)" fill="#000"><ellipse cx="517.60" cy="547.90" rx="4.70" ry="4.80"/><ellipse cx="525.60" cy="547.90" rx="4.70" ry="4.80"/><rect x="517.25" y="543.82" width="8.70" height="8.16"/></g>
<g filter="url(#bl3)" fill="#000" opacity="0.45"><ellipse cx="539.41" cy="548.20" rx="6.41" ry="5.70"/><ellipse cx="548.29" cy="548.20" rx="6.41" ry="5.70"/><rect x="539.03" y="543.17" width="9.65" height="10.05"/></g>
<g filter="url(#bl2)" fill="#000"><ellipse cx="539.41" cy="548.20" rx="5.21" ry="4.50"/><ellipse cx="548.29" cy="548.20" rx="5.21" ry="4.50"/><rect x="539.03" y="544.38" width="9.65" height="7.65"/></g>
</g>
<text x="15.92" y="506.29" font-size="12.78" font-weight="normal" textLength="58.61" lengthAdjust="spacingAndGlyphs" stroke="#000" stroke-width="0.65" stroke-linejoin="round">Cyclin A2</text>
<text x="14.22" y="529.36" font-size="12.46" font-weight="normal" textLength="59.16" lengthAdjust="spacingAndGlyphs" stroke="#000" stroke-width="0.65" stroke-linejoin="round">Cyclin B1</text>
<text x="28.61" y="552.27" font-size="14.35" font-weight="normal" textLength="8.14" lengthAdjust="spacingAndGlyphs" stroke="#000" stroke-width="0.5" stroke-linejoin="round" style="font-family:'Liberation Serif',serif">β</text>
<text x="37.06" y="551.75" font-size="12.86" font-weight="normal" textLength="35.87" lengthAdjust="spacingAndGlyphs" stroke="#000" stroke-width="0.65" stroke-linejoin="round">-actin</text>
<text x="23.64" y="576.30" font-size="12.89" font-weight="normal" textLength="62.79" lengthAdjust="spacingAndGlyphs" stroke="#000" stroke-width="0.55" stroke-linejoin="round">PDGF-BB</text>
<text x="29.59" y="592.69" font-size="13.13" font-weight="normal" textLength="51.36" lengthAdjust="spacingAndGlyphs" stroke="#000" stroke-width="0.55" stroke-linejoin="round">miR-223</text>
<text x="19.63" y="613.29" font-size="13.07" font-weight="normal" textLength="64.07" lengthAdjust="spacingAndGlyphs" stroke="#000" stroke-width="0.55" stroke-linejoin="round">LV-NFAT5</text>
<path d="M104.20,572.00H111.20" stroke="#000" stroke-width="3" fill="none"/>
<path d="M128.70,572.00H136.10M132.40,568.40V575.60" stroke="#000" stroke-width="2" fill="none"/>
<path d="M154.10,572.00H161.10" stroke="#000" stroke-width="3" fill="none"/>
<path d="M180.60,572.00H187.60" stroke="#000" stroke-width="3" fill="none"/>
<path d="M204.60,572.00H212.00M208.30,568.40V575.60" stroke="#000" stroke-width="2" fill="none"/>
<path d="M231.90,572.00H239.30M235.60,568.40V575.60" stroke="#000" stroke-width="2" fill="none"/>
<path d="M257.20,572.00H264.60M260.90,568.40V575.60" stroke="#000" stroke-width="2" fill="none"/>
<path d="M104.20,589.60H111.20" stroke="#000" stroke-width="3" fill="none"/>
<path d="M128.90,589.60H135.90" stroke="#000" stroke-width="3" fill="none"/>
<path d="M153.90,589.60H161.30M157.60,586.00V593.20" stroke="#000" stroke-width="2" fill="none"/>
<path d="M180.60,589.60H187.60" stroke="#000" stroke-width="3" fill="none"/>
<path d="M204.60,589.60H212.00M208.30,586.00V593.20" stroke="#000" stroke-width="2" fill="none"/>
<path d="M232.10,589.60H239.10" stroke="#000" stroke-width="3" fill="none"/>
<path d="M257.20,589.60H264.60M260.90,586.00V593.20" stroke="#000" stroke-width="2" fill="none"/>
<path d="M104.20,607.30H111.20" stroke="#000" stroke-width="3" fill="none"/>
<path d="M128.90,607.30H135.90" stroke="#000" stroke-width="3" fill="none"/>
<path d="M154.10,607.30H161.10" stroke="#000" stroke-width="3" fill="none"/>
<path d="M180.40,607.30H187.80M184.10,603.70V610.90" stroke="#000" stroke-width="2" fill="none"/>
<path d="M204.80,607.30H211.80" stroke="#000" stroke-width="3" fill="none"/>
<path d="M231.90,607.30H239.30M235.60,603.70V610.90" stroke="#000" stroke-width="2" fill="none"/>
<path d="M257.20,607.30H264.60M260.90,603.70V610.90" stroke="#000" stroke-width="2" fill="none"/>
<text x="314.52" y="507.51" font-size="12.67" font-weight="normal" textLength="58.50" lengthAdjust="spacingAndGlyphs" stroke="#000" stroke-width="0.65" stroke-linejoin="round">Cyclin A2</text>
<text x="313.03" y="529.99" font-size="12.78" font-weight="normal" textLength="58.75" lengthAdjust="spacingAndGlyphs" stroke="#000" stroke-width="0.65" stroke-linejoin="round">Cyclin B1</text>
<text x="326.81" y="552.77" font-size="14.35" font-weight="normal" textLength="8.14" lengthAdjust="spacingAndGlyphs" stroke="#000" stroke-width="0.5" stroke-linejoin="round" style="font-family:'Liberation Serif',serif">β</text>
<text x="335.26" y="552.25" font-size="12.86" font-weight="normal" textLength="35.87" lengthAdjust="spacingAndGlyphs" stroke="#000" stroke-width="0.65" stroke-linejoin="round">-actin</text>
<text x="307.15" y="578.30" font-size="12.61" font-weight="normal" textLength="62.68" lengthAdjust="spacingAndGlyphs" stroke="#000" stroke-width="0.55" stroke-linejoin="round">PDGF-BB</text>
<text x="299.07" y="596.50" font-size="12.86" font-weight="normal" textLength="80.10" lengthAdjust="spacingAndGlyphs" stroke="#000" stroke-width="0.55" stroke-linejoin="round">Anti-miR-223</text>
<text x="312.04" y="615.00" font-size="12.99" font-weight="normal" textLength="54.16" lengthAdjust="spacingAndGlyphs" stroke="#000" stroke-width="0.55" stroke-linejoin="round">siNFAT5</text>
<path d="M388.00,574.60H395.00" stroke="#000" stroke-width="3" fill="none"/>
<path d="M413.00,574.60H420.40M416.70,571.00V578.20" stroke="#000" stroke-width="2" fill="none"/>
<path d="M438.30,574.60H445.30" stroke="#000" stroke-width="3" fill="none"/>
<path d="M464.70,574.60H471.70" stroke="#000" stroke-width="3" fill="none"/>
<path d="M488.70,574.60H496.10M492.40,571.00V578.20" stroke="#000" stroke-width="2" fill="none"/>
<path d="M516.10,574.60H523.50M519.80,571.00V578.20" stroke="#000" stroke-width="2" fill="none"/>
<path d="M541.60,574.60H549.00M545.30,571.00V578.20" stroke="#000" stroke-width="2" fill="none"/>
<path d="M388.00,592.10H395.00" stroke="#000" stroke-width="3" fill="none"/>
<path d="M413.20,592.10H420.20" stroke="#000" stroke-width="3" fill="none"/>
<path d="M438.10,592.10H445.50M441.80,588.50V595.70" stroke="#000" stroke-width="2" fill="none"/>
<path d="M464.70,592.10H471.70" stroke="#000" stroke-width="3" fill="none"/>
<path d="M488.70,592.10H496.10M492.40,588.50V595.70" stroke="#000" stroke-width="2" fill="none"/>
<path d="M516.30,592.10H523.30" stroke="#000" stroke-width="3" fill="none"/>
<path d="M541.60,592.10H549.00M545.30,588.50V595.70" stroke="#000" stroke-width="2" fill="none"/>
<path d="M388.00,610.30H395.00" stroke="#000" stroke-width="3" fill="none"/>
<path d="M413.20,610.30H420.20" stroke="#000" stroke-width="3" fill="none"/>
<path d="M438.30,610.30H445.30" stroke="#000" stroke-width="3" fill="none"/>
<path d="M464.50,610.30H471.90M468.20,606.70V613.90" stroke="#000" stroke-width="2" fill="none"/>
<path d="M488.90,610.30H495.90" stroke="#000" stroke-width="3" fill="none"/>
<path d="M516.10,610.30H523.50M519.80,606.70V613.90" stroke="#000" stroke-width="2" fill="none"/>
<path d="M541.60,610.30H549.00M545.30,606.70V613.90" stroke="#000" stroke-width="2" fill="none"/>
</svg></body></html>
